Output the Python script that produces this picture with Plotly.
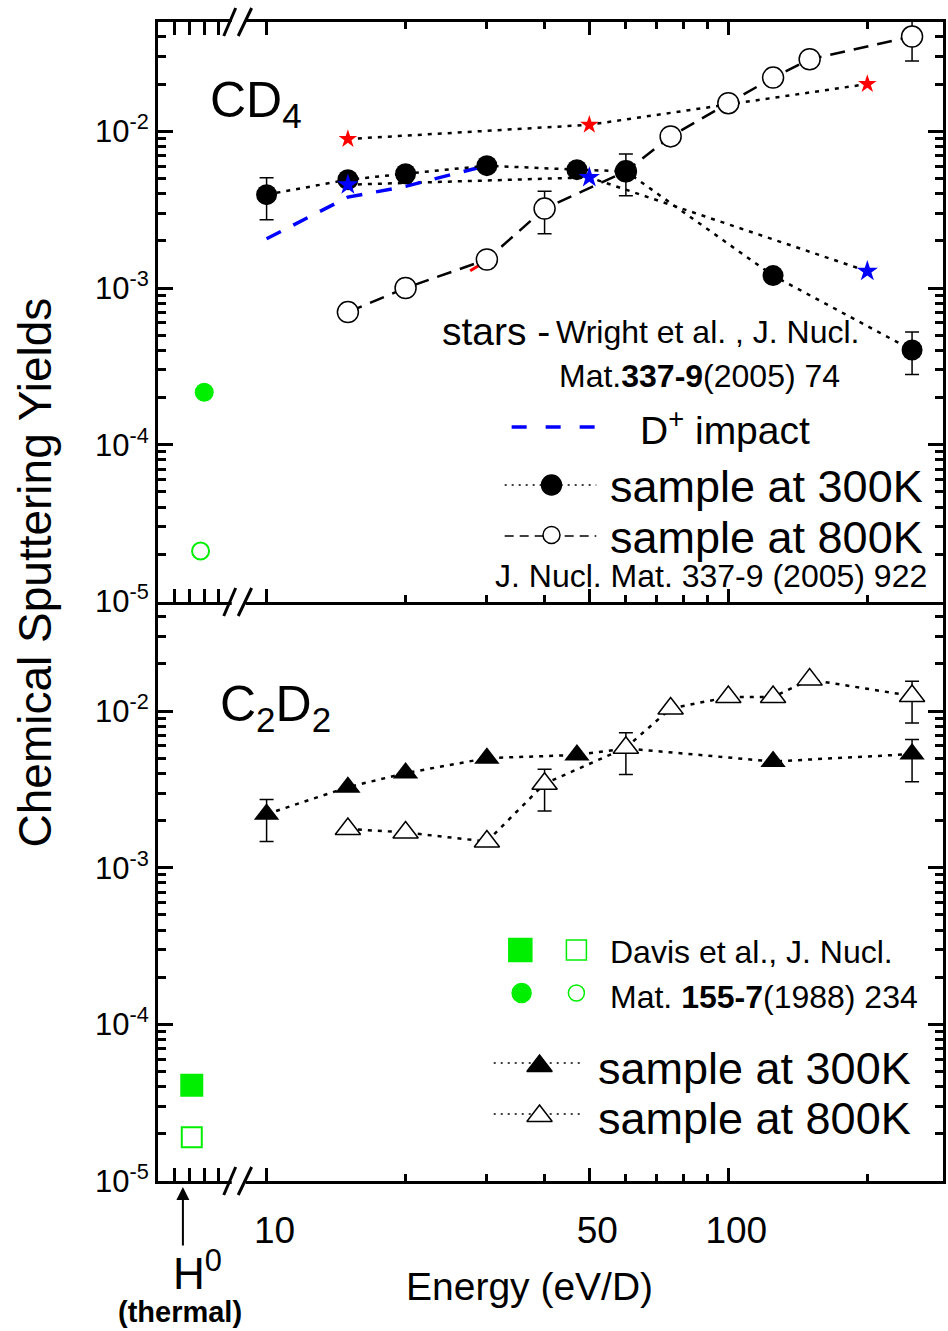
import plotly.graph_objects as go

FONT = "Liberation Sans, Arial, Helvetica, sans-serif"

# ------------------------------------------------------------------
# DATA
# ------------------------------------------------------------------
# --- CD4 panel ---
cd4_300K_E = [10, 15, 20, 30, 47, 60, 125, 250]
cd4_300K_Y = [3.94e-3, 4.91e-3, 5.36e-3, 6.03e-3, 5.69e-3, 5.55e-3, 1.20e-3, 4.02e-4]
cd4_300K_err_up = [1.12e-3, None, None, None, None, 1.61e-3, None, 1.22e-4]
cd4_300K_err_dn = [1.21e-3, None, None, None, None, 1.67e-3, None, 1.21e-4]

cd4_800K_E = [15, 20, 30, 40, 60, 75, 100, 125, 150, 250]
cd4_800K_Y = [7.02e-4, 1.00e-3, 1.52e-3, 3.21e-3, 5.55e-3, 9.27e-3, 1.51e-2, 2.20e-2, 2.88e-2, 4.02e-2]
cd4_800K_err_up = [None, None, None, 0.93e-3, None, None, None, None, None, 1.10e-2]
cd4_800K_err_dn = [None, None, None, 0.99e-3, None, None, None, None, None, 1.21e-2]

wright_E = [15, 50, 200]
wright_red_Y = [8.92e-3, 1.10e-2, 2.00e-2]
wright_blue_Y = [4.56e-3, 5.08e-3, 1.28e-3]

dplus_E = [10, 15, 20, 30]
dplus_Y = [2.06e-3, 3.80e-3, 4.45e-3, 6.05e-3]

red_seg_E = [27.6, 29.5]
red_seg_Y = [1.29e-3, 1.45e-3]

# Davis et al. thermal H0 values (placed on the broken part of the axis)
davis_cd4_filled_pos = [3.0]
davis_cd4_filled_Y = [2.16e-4]
davis_cd4_open_pos = [2.75]
davis_cd4_open_Y = [2.10e-5]

# --- C2D2 panel ---
c2d2_300K_E = [10, 15, 20, 30, 47, 60, 125, 250]
c2d2_300K_Y = [2.20e-3, 3.27e-3, 4.02e-3, 5.01e-3, 5.25e-3, 5.78e-3, 4.77e-3, 5.32e-3]
c2d2_300K_err_up = [0.53e-3, None, None, None, None, None, None, 1.28e-3]
c2d2_300K_err_dn = [0.73e-3, None, None, None, None, None, None, 1.78e-3]

c2d2_800K_E = [15, 20, 30, 40, 60, 75, 100, 125, 150, 250]
c2d2_800K_Y = [1.77e-3, 1.68e-3, 1.47e-3, 3.44e-3, 5.84e-3, 1.04e-2, 1.23e-2, 1.23e-2, 1.59e-2, 1.25e-2]
c2d2_800K_err_up = [None, None, None, 0.81e-3, 1.44e-3, None, None, None, None, 0.30e-2]
c2d2_800K_err_dn = [None, None, None, 1.14e-3, 1.90e-3, None, None, None, None, 0.41e-2]

davis_c2d2_filled_pos = [2.15]
davis_c2d2_filled_Y = [4.08e-5]
davis_c2d2_open_pos = [2.15]
davis_c2d2_open_Y = [1.90e-5]

# --- ticks ---
y_tickvals = [1e-5, 1e-4, 1e-3, 1e-2]
y_ticktext = ["10<sup>-5</sup>", "10<sup>-4</sup>", "10<sup>-3</sup>", "10<sup>-2</sup>"]
y_minorvals = [m * 10.0 ** e for e in (-5, -4, -3, -2) for m in range(2, 10)]
x_tickvals = [10, 50, 100]
x_ticktext = ["10", "50", "100"]
x_minorvals = [20, 30, 40, 60, 70, 80, 90, 200]
thermal_tickvals = [1, 2, 3, 4]

# ------------------------------------------------------------------
# LAYOUT GEOMETRY (pixels)
# ------------------------------------------------------------------
W, H = 948, 1331
L, R, T, B = 158, 946, 22, 1181
MID = 602
GAP_L, GAP_R = 232, 246          # axis break
X10_PX, DEC_PX = 267, 463.5      # position of 10 eV and px per decade
TH_PX = 14.7                     # px per unit on thermal axis
TH_FIRST_PX = 175                # pixel of thermal tick 1


def px(x):
    return (x - L) / (R - L)


def py(y):
    return (B - y) / (B - T)


xdom_th = [0, px(GAP_L)]
th0 = 1 - (TH_FIRST_PX - L) / TH_PX
th_range = [th0, th0 + (GAP_L - L) / TH_PX]
logE_range = [1 + (L - X10_PX) / DEC_PX, 1 + (R - X10_PX) / DEC_PX]
y_top_range = [-5, -1.303]
y_bot_range = [-5, -1.300]

fig = go.Figure()

BLK = "black"
GRN = "#00ee00"
DOT = "4px,6px"
DASH = "15px,9px"


def errs(up, dn):
    return dict(type="data", symmetric=False,
                array=up, arrayminus=dn, color=BLK, thickness=1.5, width=7)


# ---------------- top panel (CD4) ----------------
fig.add_trace(go.Scatter(x=wright_E, y=wright_red_Y, xaxis="x2", yaxis="y", mode="lines+markers",
                         line=dict(color=BLK, width=2.5, dash=DOT),
                         marker=dict(symbol="star", size=14, color="#ff0000", line=dict(width=0))))
fig.add_trace(go.Scatter(x=wright_E, y=wright_blue_Y, xaxis="x2", yaxis="y", mode="lines",
                         line=dict(color=BLK, width=2.5, dash=DOT)))
fig.add_trace(go.Scatter(x=dplus_E, y=dplus_Y, xaxis="x2", yaxis="y", mode="lines",
                         line=dict(color="#0000ff", width=3.5, dash="16px,14px")))
fig.add_trace(go.Scatter(x=red_seg_E, y=red_seg_Y, xaxis="x2", yaxis="y", mode="lines",
                         line=dict(color="#ff0000", width=3)))
fig.add_trace(go.Scatter(x=cd4_800K_E, y=cd4_800K_Y, xaxis="x2", yaxis="y", mode="lines+markers",
                         cliponaxis=False,
                         line=dict(color=BLK, width=2.5, dash=DASH),
                         marker=dict(symbol="circle", size=21, color="white", line=dict(color=BLK, width=1.5)),
                         error_y=errs(cd4_800K_err_up, cd4_800K_err_dn)))
fig.add_trace(go.Scatter(x=cd4_300K_E, y=cd4_300K_Y, xaxis="x2", yaxis="y", mode="lines+markers",
                         line=dict(color=BLK, width=2.5, dash=DOT),
                         marker=dict(symbol="circle", size=21, color=BLK),
                         error_y=errs(cd4_300K_err_up, cd4_300K_err_dn)))
fig.add_trace(go.Scatter(x=wright_E, y=wright_blue_Y, xaxis="x2", yaxis="y", mode="markers",
                         marker=dict(symbol="star", size=16, color="#0000ff", line=dict(width=0))))
fig.add_trace(go.Scatter(x=davis_cd4_filled_pos, y=davis_cd4_filled_Y, xaxis="x", yaxis="y", mode="markers",
                         marker=dict(symbol="circle", size=19, color=GRN)))
fig.add_trace(go.Scatter(x=davis_cd4_open_pos, y=davis_cd4_open_Y, xaxis="x", yaxis="y", mode="markers",
                         marker=dict(symbol="circle", size=17, color="white", line=dict(color=GRN, width=2))))

# ---------------- bottom panel (C2D2) ----------------
fig.add_trace(go.Scatter(x=c2d2_300K_E, y=c2d2_300K_Y, xaxis="x4", yaxis="y2", mode="lines+markers",
                         line=dict(color=BLK, width=2.5, dash=DOT),
                         marker=dict(symbol="triangle-up", size=22, color=BLK),
                         error_y=errs(c2d2_300K_err_up, c2d2_300K_err_dn)))
fig.add_trace(go.Scatter(x=c2d2_800K_E, y=c2d2_800K_Y, xaxis="x4", yaxis="y2", mode="lines+markers",
                         line=dict(color=BLK, width=2.5, dash=DOT),
                         marker=dict(symbol="triangle-up", size=22, color="white", line=dict(color=BLK, width=1.5)),
                         error_y=errs(c2d2_800K_err_up, c2d2_800K_err_dn)))
fig.add_trace(go.Scatter(x=davis_c2d2_filled_pos, y=davis_c2d2_filled_Y, xaxis="x3", yaxis="y2", mode="markers",
                         marker=dict(symbol="square", size=23, color=GRN)))
fig.add_trace(go.Scatter(x=davis_c2d2_open_pos, y=davis_c2d2_open_Y, xaxis="x3", yaxis="y2", mode="markers",
                         marker=dict(symbol="square", size=20, color="white", line=dict(color=GRN, width=2))))

# ---------------- legend swatches (overlay axes spanning the plot area) ----------------
legend_marks = [
    # (x px, y px, symbol, size, fill, line colour)
    (553, 485, "circle", 20, BLK, BLK),
    (553, 535, "circle", 17, "white", BLK),
    (521.7, 950, "square", 23, GRN, GRN),
    (578, 950, "square", 20, "white", GRN),
    (523, 993, "circle", 19, GRN, GRN),
    (578, 993, "circle", 16, "white", GRN),
    (541, 1066, "triangle-up", 22, BLK, BLK),
    (541, 1116, "triangle-up", 22, "white", BLK),
]
for (mx, my, sym, sz, fc, lc) in legend_marks:
    fig.add_trace(go.Scatter(x=[px(mx)], y=[py(my)], xaxis="x9", yaxis="y9", mode="markers", cliponaxis=False,
                             marker=dict(symbol=sym, size=sz, color=fc, line=dict(color=lc, width=1.5))))

# ---------------- axes ----------------
base = dict(showline=True, linecolor=BLK, linewidth=3, showgrid=False, zeroline=False,
            ticks="inside", tickwidth=2.5, tickcolor=BLK)
tickfont_y = dict(family=FONT, size=31, color=BLK)
yminor = dict(tickvals=y_minorvals, ticks="inside", ticklen=8, tickwidth=2.5, tickcolor=BLK, showgrid=False)
xminor = dict(tickvals=x_minorvals, ticks="inside", ticklen=7, tickwidth=2.5, tickcolor=BLK, showgrid=False)

fig.update_layout(
    width=W, height=H,
    margin=dict(l=L, r=W - R, t=T, b=H - B),
    paper_bgcolor="white", plot_bgcolor="rgba(0,0,0,0)",
    showlegend=False,
    font=dict(family=FONT, color=BLK),
    # top panel: log energy axis spans the full width, thermal axis sits on the broken left part
    xaxis2=dict(base, type="log", domain=[0, 1], range=logE_range, anchor="y",
                tickvals=x_tickvals, ticklen=13, showticklabels=False, mirror="ticks", minor=xminor),
    xaxis=dict(base, showline=False, domain=xdom_th, range=th_range, anchor="y",
               tickvals=thermal_tickvals, ticklen=13, showticklabels=False, mirror="ticks"),
    yaxis=dict(base, type="log", domain=[0.5, 1], range=y_top_range, anchor="x2",
               tickvals=y_tickvals, ticktext=y_ticktext, ticklen=15, tickfont=tickfont_y,
               mirror="ticks", minor=yminor),
    # bottom panel
    xaxis4=dict(base, type="log", domain=[0, 1], range=logE_range, anchor="y2",
                tickvals=x_tickvals, ticktext=x_ticktext, ticklen=13, minor=xminor,
                tickfont=dict(family=FONT, size=37, color=BLK), ticklabelstandoff=15, ticklabelshift=8),
    xaxis3=dict(base, showline=False, domain=xdom_th, range=th_range, anchor="y2",
                tickvals=thermal_tickvals, ticklen=13, showticklabels=False),
    yaxis2=dict(base, type="log", domain=[0, 0.5], range=y_bot_range, anchor="x4",
                tickvals=y_tickvals, ticktext=y_ticktext, ticklen=15, tickfont=tickfont_y,
                mirror="ticks", minor=yminor),
    # overlay for legend swatches
    xaxis9=dict(domain=[0, 1], range=[0, 1], anchor="y9", visible=False, fixedrange=True),
    yaxis9=dict(domain=[0, 1], range=[0, 1], anchor="x9", visible=False, fixedrange=True),
)

# ---------------- decorative shapes ----------------
shapes = []
# axis break: gap in the horizontal axis lines + two slashes
for yc in (T, MID, B):
    shapes.append(dict(type="rect", xref="paper", yref="paper", layer="above",
                       x0=px(GAP_L), x1=px(GAP_R), y0=py(yc + 3), y1=py(yc - 3),
                       fillcolor="white", line=dict(width=0)))
for yc in (T, MID, B):
    for (x0, x1) in ((224, 236), (238.5, 252)):
        shapes.append(dict(type="line", xref="paper", yref="paper", layer="above",
                           x0=px(x0), y0=py(yc + 14), x1=px(x1), y1=py(yc - 14),
                           line=dict(color=BLK, width=3)))
# legend line samples
legend_lines = [
    (513, 597, 427, "#0000ff", 3.5, "15px,19px"),
    (506, 598, 485, BLK, 1.5, "2px,5px"),
    (506, 598, 536, BLK, 1.5, "9px,6px"),
    (495, 585, 1063, BLK, 1.5, "2px,5px"),
    (495, 585, 1114, BLK, 1.5, "2px,5px"),
]
for (x0, x1, yy, col, wd, ds) in legend_lines:
    shapes.append(dict(type="line", xref="paper", yref="paper", layer="below",
                       x0=px(x0), x1=px(x1), y0=py(yy), y1=py(yy),
                       line=dict(color=col, width=wd, dash=ds)))
fig.update_layout(shapes=shapes)


# ---------------- texts ----------------
def txt(text, x, y, size, xanchor="left", yanchor="middle", **kw):
    fig.add_annotation(text=text, x=px(x), y=py(y), xref="paper", yref="paper",
                       xanchor=xanchor, yanchor=yanchor, showarrow=False,
                       font=dict(family=FONT, size=size, color=BLK), **kw)


txt("CD<sub>4</sub>", 208, 103, 50)
txt("C<sub>2</sub>D<sub>2</sub>", 218, 708, 50)
txt("stars -", 441, 331, 39)
txt("Wright et al. , J. Nucl.", 556, 332, 32)
txt("Mat.<b>337-9</b>(2005) 74", 559, 376, 32)
txt("D<sup>+</sup> impact", 640, 427, 39)
txt("sample at 300K", 610, 487, 45)
txt("sample at 800K", 610, 537, 45)
txt("J. Nucl. Mat. 337-9 (2005) 922", 494, 576, 32)
txt("Davis et al., J. Nucl.", 610, 952, 32)
txt("Mat. <b>155-7</b>(1988) 234", 610, 997, 32)
txt("sample at 300K", 598, 1068, 45)
txt("sample at 800K", 598, 1118, 45)
txt("Energy (eV/D)", 531, 1287, 39, xanchor="center")
txt("H<sup>0</sup>", 171, 1270, 44)
txt("<b>(thermal)</b>", 180, 1312, 29, xanchor="center")
txt("Chemical Sputtering Yields", 35, 572, 46, xanchor="center", textangle=-90)

# H0 arrow
fig.add_annotation(x=px(183), y=py(1187), xref="paper", yref="paper", text="",
                   showarrow=True, ax=0, ay=60, arrowhead=2, arrowsize=1.3, arrowwidth=2,
                   arrowcolor=BLK)

fig.write_html("out.html")
